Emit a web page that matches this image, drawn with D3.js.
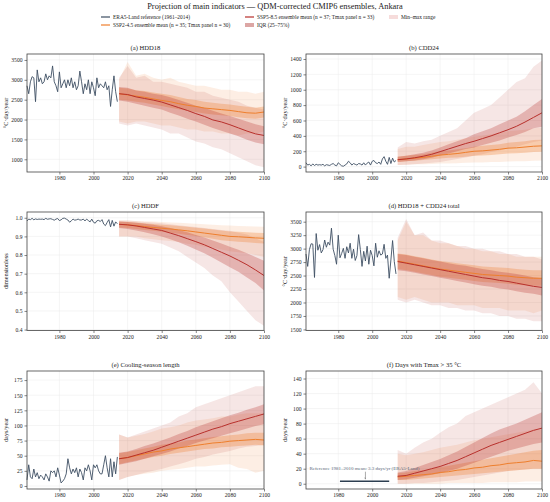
<!DOCTYPE html>
<html>
<head>
<meta charset="utf-8">
<script src="https://cdn.jsdelivr.net/npm/d3@7"></script>
<style>
  body { margin: 0; background: #fff; }
  svg { font-family: "Liberation Serif", "DejaVu Serif", serif; }
</style>
</head>
<body>
<svg id="chart" width="550" height="502"></svg>
<script>
// years
var histYears = d3.range(1961, 2015);
var projYears = d3.range(2015, 2101, 5);
var xTicks = [1980, 2000, 2020, 2040, 2060, 2080, 2100];

// (a) HDD18
var hdd18Era5 = [2850,2650,2950,3080,3050,2450,3250,2950,3050,2900,2950,3150,3000,3100,3050,3350,2950,2850,2700,3200,
  2800,2900,3000,2800,3000,2850,3050,2800,2950,2750,2850,3220,2950,2650,2900,2750,3000,2650,2950,2800,
  2600,3050,2800,2900,2850,2800,2950,2750,2850,2330,2750,3100,2700,2450];
var hdd18Ssp245Mean = [2650,2620,2590,2560,2520,2480,2450,2400,2360,2330,2290,2270,2250,2230,2200,2170,2160,2190];
var hdd18Ssp245IqrLo = [2500,2480,2450,2420,2380,2340,2300,2260,2220,2190,2150,2130,2110,2090,2060,2030,2020,2050];
var hdd18Ssp245IqrHi = [2800,2780,2740,2720,2680,2650,2620,2570,2520,2490,2450,2420,2400,2380,2350,2320,2300,2330];
var hdd18Ssp245Min = [1950,1900,1950,1950,1900,1850,1850,1800,1750,1750,1700,1700,1650,1650,1600,1650,1650,1700];
var hdd18Ssp245Max = [3000,3450,3100,3150,3050,3000,3050,2950,2900,2850,2850,2800,2750,2750,2700,2700,2650,2700];
var hdd18Ssp585Mean = [2650,2630,2570,2530,2490,2440,2370,2300,2230,2150,2080,1990,1940,1870,1790,1710,1640,1600];
var hdd18Ssp585IqrLo = [2480,2450,2400,2350,2300,2250,2170,2100,2020,1950,1870,1790,1720,1650,1580,1490,1420,1380];
var hdd18Ssp585IqrHi = [2820,2800,2730,2700,2650,2620,2560,2490,2420,2350,2300,2220,2150,2090,2020,1950,1880,1830];
var hdd18Ssp585Min = [1900,1850,1900,1850,1800,1750,1650,1650,1550,1450,1400,1300,1250,1150,1050,950,850,800];
var hdd18Ssp585Max = [3050,3350,3050,3100,2950,2950,2900,2850,2800,2700,2700,2600,2550,2500,2450,2350,2300,2250];

// (b) CDD24
var cdd24Era5 = [50,20,30,10,35,15,30,20,25,20,30,10,25,20,15,30,40,20,10,50,
  30,10,5,20,35,70,50,20,40,30,20,40,35,20,50,20,45,60,20,70,
  80,50,40,60,30,100,130,70,30,120,40,110,60,80];
var cdd24Ssp245Mean = [90,100,110,120,135,150,160,170,185,200,205,215,225,240,245,255,265,270];
var cdd24Ssp245IqrLo = [60,70,75,85,95,105,115,120,130,140,145,150,160,170,175,180,190,195];
var cdd24Ssp245IqrHi = [130,140,150,160,180,200,210,225,240,260,270,280,290,310,320,330,345,350];
var cdd24Ssp245Min = [20,25,30,30,35,40,40,45,50,55,55,60,60,65,70,70,75,80];
var cdd24Ssp245Max = [230,260,260,280,300,320,330,350,370,390,400,420,440,460,470,480,500,510];
var cdd24Ssp585Mean = [90,100,115,135,160,195,230,265,300,330,365,400,440,480,525,580,640,700];
var cdd24Ssp585IqrLo = [60,70,80,95,115,145,170,200,230,250,280,310,340,380,410,450,500,520];
var cdd24Ssp585IqrHi = [130,140,160,180,210,250,290,330,370,420,460,500,550,600,650,720,800,880];
var cdd24Ssp585Min = [20,25,30,40,50,60,80,100,120,140,160,190,210,240,260,290,320,340];
var cdd24Ssp585Max = [250,320,300,330,350,400,450,500,600,700,750,800,900,1000,1100,1150,1300,1380];

// (c) HDDF
var hddfEra5 = [0.983,0.993,0.99,0.997,0.989,0.994,0.991,0.993,0.992,0.993,0.99,0.997,0.992,0.994,0.995,0.991,0.987,0.993,0.996,0.985,
  0.989,0.997,0.998,0.993,0.988,0.976,0.984,0.993,0.987,0.989,0.993,0.988,0.988,0.993,0.983,0.993,0.985,0.978,0.993,0.976,
  0.971,0.984,0.986,0.98,0.99,0.966,0.958,0.975,0.99,0.951,0.986,0.955,0.978,0.968];
var hddfSsp245Mean = [0.965,0.962,0.958,0.953,0.948,0.944,0.94,0.935,0.93,0.924,0.918,0.912,0.906,0.9,0.898,0.895,0.892,0.89];
var hddfSsp245IqrLo = [0.948,0.945,0.94,0.935,0.93,0.925,0.92,0.914,0.908,0.902,0.895,0.888,0.88,0.875,0.872,0.868,0.865,0.862];
var hddfSsp245IqrHi = [0.98,0.978,0.975,0.971,0.967,0.963,0.96,0.956,0.952,0.947,0.942,0.937,0.932,0.927,0.925,0.922,0.92,0.918];
var hddfSsp245Min = [0.9,0.9,0.9,0.89,0.885,0.88,0.875,0.87,0.86,0.855,0.845,0.84,0.83,0.82,0.815,0.81,0.8,0.79];
var hddfSsp245Max = [0.985,0.985,0.983,0.982,0.98,0.978,0.975,0.973,0.97,0.968,0.965,0.962,0.96,0.958,0.956,0.955,0.953,0.952];
var hddfSsp585Mean = [0.965,0.962,0.956,0.948,0.94,0.932,0.918,0.904,0.888,0.872,0.855,0.835,0.815,0.795,0.772,0.748,0.72,0.69];
var hddfSsp585IqrLo = [0.945,0.94,0.932,0.922,0.912,0.9,0.885,0.868,0.85,0.83,0.81,0.785,0.76,0.735,0.71,0.68,0.65,0.61];
var hddfSsp585IqrHi = [0.98,0.978,0.973,0.968,0.962,0.955,0.945,0.935,0.922,0.908,0.894,0.878,0.862,0.845,0.828,0.81,0.79,0.77];
var hddfSsp585Min = [0.9,0.9,0.89,0.88,0.87,0.86,0.84,0.82,0.79,0.76,0.73,0.69,0.66,0.6,0.55,0.5,0.45,0.42];
var hddfSsp585Max = [0.985,0.985,0.982,0.978,0.975,0.97,0.965,0.96,0.955,0.95,0.945,0.94,0.935,0.93,0.92,0.91,0.89,0.87];

// (d) HDD18 + CDD24 total
var totalEra5 = [2900,2670,2980,3090,3085,2465,3280,2970,3075,2920,2980,3160,3025,3120,3065,3380,2990,2870,2710,3250,
  2830,2910,3005,2820,3035,2920,3100,2820,2990,2780,2870,3260,2985,2670,2950,2770,3045,2710,2970,2870,
  2680,3100,2840,2960,2880,2900,3080,2820,2880,2450,2790,3150,2760,2530];
var totalSsp245Mean = [2770,2740,2710,2680,2650,2620,2600,2580,2560,2540,2520,2510,2500,2490,2470,2460,2450,2450];
var totalSsp245IqrLo = [2620,2600,2570,2540,2510,2480,2460,2440,2420,2400,2380,2370,2360,2350,2330,2320,2310,2310];
var totalSsp245IqrHi = [2910,2890,2860,2830,2800,2770,2750,2730,2710,2690,2670,2660,2650,2640,2620,2610,2600,2600];
var totalSsp245Min = [2100,2050,2100,2050,2000,2000,2000,1950,1950,1950,1900,1900,1900,1850,1850,1850,1800,1850];
var totalSsp245Max = [3150,3500,3250,3250,3150,3100,3100,3050,3000,3000,2950,2950,2900,2900,2850,2850,2850,2850];
var totalSsp585Mean = [2760,2730,2700,2670,2640,2610,2580,2550,2520,2490,2460,2440,2410,2390,2360,2330,2300,2280];
var totalSsp585IqrLo = [2600,2580,2550,2520,2490,2460,2430,2400,2370,2340,2310,2290,2260,2240,2210,2180,2160,2130];
var totalSsp585IqrHi = [2900,2880,2850,2820,2790,2760,2730,2700,2680,2650,2620,2600,2570,2550,2530,2500,2470,2450];
var totalSsp585Min = [2050,2000,2050,2000,1950,1950,1900,1900,1850,1850,1800,1800,1750,1750,1700,1700,1650,1650];
var totalSsp585Max = [3200,3550,3250,3300,3150,3150,3100,3050,3050,3000,3000,2950,2950,2900,2900,2850,2850,2800];

// (e) Cooling-season length
var coolEra5 = [10,35,15,12,28,15,22,12,18,15,10,20,15,8,25,22,25,15,30,18,
  5,8,12,20,45,30,20,28,22,30,15,28,22,10,30,25,35,25,10,35,
  30,35,25,20,20,35,50,30,15,45,15,40,20,48];
var coolSsp245Mean = [45,47,50,53,56,58,61,63,65,67,69,71,72,74,75,76,77,76];
var coolSsp245IqrLo = [36,39,42,45,48,50,53,55,57,59,61,62,64,65,66,67,68,67];
var coolSsp245IqrHi = [54,56,59,62,65,68,70,72,75,77,79,81,82,84,85,87,88,88];
var coolSsp245Min = [10,15,18,20,22,25,27,28,30,32,32,34,35,36,30,28,22,25];
var coolSsp245Max = [85,80,83,86,90,95,97,100,105,108,110,112,115,115,118,120,120,120];
var coolSsp585Mean = [45,47,51,55,59,64,69,74,79,84,89,94,98,103,107,111,115,119];
var coolSsp585IqrLo = [35,38,41,45,49,53,57,62,66,71,75,79,83,87,91,95,99,102];
var coolSsp585IqrHi = [55,57,61,66,70,75,80,86,91,97,102,107,112,117,121,126,130,135];
var coolSsp585Min = [10,15,18,22,25,28,32,36,40,45,48,52,55,58,62,65,66,68];
var coolSsp585Max = [85,80,85,90,95,100,105,115,120,130,135,140,145,150,155,160,165,165];

// (f) Days with Tmax > 35 °C
var hotRefYears = [1981, 2010];
var hotRefMean = 3.3;
var hotSsp245Mean = [9,10,11,12,13,15,16,18,19,21,22,24,25,27,28,29,31,30];
var hotSsp245IqrLo = [5,5,6,7,8,9,10,11,12,13,14,15,16,17,18,19,20,20];
var hotSsp245IqrHi = [14,15,17,18,20,22,24,26,28,30,32,34,36,38,40,42,44,45];
var hotSsp245Min = [0,0,0,0,0,0,1,1,1,1,1,2,2,2,2,3,3,3];
var hotSsp245Max = [40,38,40,42,45,48,50,52,55,58,60,62,64,66,68,70,72,72];
var hotSsp585Mean = [10,11,14,17,20,23,27,31,36,41,46,51,55,59,63,67,71,74];
var hotSsp585IqrLo = [5,6,8,10,12,14,17,20,24,28,32,36,40,44,47,50,53,55];
var hotSsp585IqrHi = [15,17,21,25,29,33,38,43,49,55,61,67,72,76,80,85,90,95];
var hotSsp585Min = [0,0,1,1,2,3,4,5,7,9,11,13,15,17,18,19,20,20];
var hotSsp585Max = [45,40,48,55,60,68,75,80,90,95,100,105,110,115,120,125,135,120];

var colEra5 = "#3e4f63", col245 = "#ee7f2d", col585 = "#b8302c";

var svg = d3.select("#chart");

function scen(mean, iqrLo, iqrHi, mn, mx) {
  return projYears.map(function(yr, i) {
    return {year: yr, mean: mean[i], q1: iqrLo[i], q3: iqrHi[i], lo: mn[i], hi: mx[i]};
  });
}

var panels = [
  {title: "(a) HDD18", ylab: "°C·day/year", col: 0, row: 0, yDomain: [680, 3650],
   yTicks: [1000, 1500, 2000, 2500, 3000, 3500], fmt: d3.format("d"), era5: hdd18Era5,
   s245: scen(hdd18Ssp245Mean, hdd18Ssp245IqrLo, hdd18Ssp245IqrHi, hdd18Ssp245Min, hdd18Ssp245Max),
   s585: scen(hdd18Ssp585Mean, hdd18Ssp585IqrLo, hdd18Ssp585IqrHi, hdd18Ssp585Min, hdd18Ssp585Max)},
  {title: "(b) CDD24", ylab: "°C·day/year", col: 1, row: 0, yDomain: [-70, 1465],
   yTicks: d3.range(0, 1401, 200), fmt: d3.format("d"), era5: cdd24Era5,
   s245: scen(cdd24Ssp245Mean, cdd24Ssp245IqrLo, cdd24Ssp245IqrHi, cdd24Ssp245Min, cdd24Ssp245Max),
   s585: scen(cdd24Ssp585Mean, cdd24Ssp585IqrLo, cdd24Ssp585IqrHi, cdd24Ssp585Min, cdd24Ssp585Max)},
  {title: "(c) HDDF", ylab: "dimensionless", col: 0, row: 1, yDomain: [0.395, 1.031],
   yTicks: [0.4, 0.5, 0.6, 0.7, 0.8, 0.9, 1.0], fmt: d3.format(".1f"), era5: hddfEra5,
   s245: scen(hddfSsp245Mean, hddfSsp245IqrLo, hddfSsp245IqrHi, hddfSsp245Min, hddfSsp245Max),
   s585: scen(hddfSsp585Mean, hddfSsp585IqrLo, hddfSsp585IqrHi, hddfSsp585Min, hddfSsp585Max)},
  {title: "(d) HDD18 + CDD24 total", ylab: "°C·day/year", col: 1, row: 1, yDomain: [1480, 3680],
   yTicks: d3.range(1500, 3501, 250), fmt: d3.format("d"), era5: totalEra5,
   s245: scen(totalSsp245Mean, totalSsp245IqrLo, totalSsp245IqrHi, totalSsp245Min, totalSsp245Max),
   s585: scen(totalSsp585Mean, totalSsp585IqrLo, totalSsp585IqrHi, totalSsp585Min, totalSsp585Max)},
  {title: "(e) Cooling-season length", ylab: "days/year", col: 0, row: 2, yDomain: [-5, 190],
   yTicks: d3.range(0, 176, 25), fmt: d3.format("d"), era5: coolEra5,
   s245: scen(coolSsp245Mean, coolSsp245IqrLo, coolSsp245IqrHi, coolSsp245Min, coolSsp245Max),
   s585: scen(coolSsp585Mean, coolSsp585IqrLo, coolSsp585IqrHi, coolSsp585Min, coolSsp585Max)},
  {title: "(f) Days with Tmax > 35 °C", ylab: "days/year", col: 1, row: 2, yDomain: [-7, 150],
   yTicks: d3.range(0, 141, 20), fmt: d3.format("d"), era5: null,
   s245: scen(hotSsp245Mean, hotSsp245IqrLo, hotSsp245IqrHi, hotSsp245Min, hotSsp245Max),
   s585: scen(hotSsp585Mean, hotSsp585IqrLo, hotSsp585IqrHi, hotSsp585Min, hotSsp585Max)}
];

var colX = [[27, 264], [306, 542]];
var rowY = [[54, 172], [212, 330.5], [371, 489]];

// arrow head for the reference note
svg.append("defs").append("marker")
  .attr("id", "arr").attr("viewBox", "0 0 10 10").attr("refX", 9).attr("refY", 5)
  .attr("markerWidth", 4).attr("markerHeight", 4).attr("orient", "auto")
  .append("path").attr("d", "M0,1L10,5L0,9").attr("fill", "none").attr("stroke", "#555").attr("stroke-width", 1.5);

panels.forEach(function(p) {
  var x0 = colX[p.col][0], x1 = colX[p.col][1];
  var y0 = rowY[p.row][0], y1 = rowY[p.row][1];
  var x = d3.scaleLinear().domain([1961, 2100]).range([x0, x1]);
  var y = d3.scaleLinear().domain(p.yDomain).range([y1, y0]);
  var g = svg.append("g");

  // grid
  g.selectAll(".gx").data(xTicks).enter().append("line")
    .attr("x1", function(d) { return x(d); }).attr("x2", function(d) { return x(d); })
    .attr("y1", y0).attr("y2", y1).attr("stroke", "#ebebeb").attr("stroke-width", 0.5);
  g.selectAll(".gy").data(p.yTicks).enter().append("line")
    .attr("x1", x0).attr("x2", x1)
    .attr("y1", function(d) { return y(d); }).attr("y2", function(d) { return y(d); })
    .attr("stroke", "#ebebeb").attr("stroke-width", 0.5);

  var band = function(a, b) {
    return d3.area().x(function(d) { return x(d.year); })
      .y0(function(d) { return y(d[a]); }).y1(function(d) { return y(d[b]); });
  };
  var meanLine = d3.line().x(function(d) { return x(d.year); }).y(function(d) { return y(d.mean); });

  // bands: min-max first, then IQR
  g.append("path").attr("d", band("lo", "hi")(p.s245)).attr("fill", col245).attr("fill-opacity", 0.13);
  g.append("path").attr("d", band("lo", "hi")(p.s585)).attr("fill", col585).attr("fill-opacity", 0.12);
  g.append("path").attr("d", band("q1", "q3")(p.s245)).attr("fill", col245).attr("fill-opacity", 0.3);
  g.append("path").attr("d", band("q1", "q3")(p.s585)).attr("fill", col585).attr("fill-opacity", 0.28);

  g.append("path").attr("d", meanLine(p.s245)).attr("fill", "none").attr("stroke", col245).attr("stroke-width", 1);
  g.append("path").attr("d", meanLine(p.s585)).attr("fill", "none").attr("stroke", col585).attr("stroke-width", 1);

  if (p.era5) {
    var hist = histYears.map(function(yr, i) { return {year: yr, v: p.era5[i]}; });
    g.append("path")
      .attr("d", d3.line().x(function(d) { return x(d.year); }).y(function(d) { return y(d.v); })(hist))
      .attr("fill", "none").attr("stroke", colEra5).attr("stroke-width", 0.9);
  } else {
    g.append("line")
      .attr("x1", x(hotRefYears[0])).attr("x2", x(hotRefYears[1]))
      .attr("y1", y(hotRefMean)).attr("y2", y(hotRefMean))
      .attr("stroke", "#2c3e50").attr("stroke-width", 1.6);
    var ax = x(1996);
    g.append("text").attr("x", x(1963)).attr("y", y(20) + 1.5)
      .attr("font-size", 5).attr("fill", "#5d6d7e")
      .text("Reference 1981–2010 mean: 3.3 days/yr (ERA5-Land)");
    g.append("line").attr("x1", ax).attr("x2", ax)
      .attr("y1", y(16)).attr("y2", y(hotRefMean) - 2)
      .attr("stroke", "#555").attr("stroke-width", 0.5).attr("marker-end", "url(#arr)");
  }

  // axes
  var xa = g.append("g").attr("transform", "translate(0," + y1 + ")")
    .call(d3.axisBottom(x).tickValues(xTicks).tickFormat(d3.format("d")).tickSize(2.5).tickPadding(2));
  var ya = g.append("g").attr("transform", "translate(" + x0 + ",0)")
    .call(d3.axisLeft(y).tickValues(p.yTicks).tickFormat(p.fmt).tickSize(2.5).tickPadding(2));
  [xa, ya].forEach(function(a) {
    a.select(".domain").remove();
    a.selectAll("line").attr("stroke", "#333").attr("stroke-width", 0.6);
    a.selectAll("text").attr("font-family", "Liberation Serif").attr("font-size", 5.6).attr("fill", "#222");
  });

  g.append("rect").attr("x", x0).attr("y", y0).attr("width", x1 - x0).attr("height", y1 - y0)
    .attr("fill", "none").attr("stroke", "#444").attr("stroke-width", 0.8);

  g.append("text").attr("x", (x0 + x1) / 2).attr("y", y0 - 4).attr("text-anchor", "middle")
    .attr("font-size", 6.6).attr("fill", "#222").text(p.title);

  var lx = x0 - 19, ly = (y0 + y1) / 2;
  g.append("text").attr("transform", "translate(" + lx + "," + ly + ") rotate(-90)")
    .attr("text-anchor", "middle").attr("font-size", 6.3).attr("fill", "#222").text(p.ylab);
});

// title
svg.append("text").attr("x", 275).attr("y", 9).attr("text-anchor", "middle")
  .attr("font-size", 8.4).attr("fill", "#222")
  .text("Projection of main indicators — QDM-corrected CMIP6 ensembles, Ankara");

// legend
var legendItems = [
  {label: "ERA5-Land reference (1961–2014)", type: "line", color: colEra5, x: 101, y: 17},
  {label: "SSP2-4.5 ensemble mean (n = 35; Tmax panel n = 30)", type: "line", color: col245, x: 101, y: 25},
  {label: "SSP5-8.5 ensemble mean (n = 37; Tmax panel n = 33)", type: "line", color: col585, x: 245, y: 17},
  {label: "IQR (25–75%)", type: "rect", color: "#dca6a4", x: 245, y: 25},
  {label: "Min–max range", type: "rect", color: "#f6dcdb", x: 389, y: 17}
];
var lg = svg.append("g").selectAll("g").data(legendItems).enter().append("g");
lg.filter(function(d) { return d.type === "line"; }).append("line")
  .attr("x1", function(d) { return d.x; }).attr("x2", function(d) { return d.x + 9; })
  .attr("y1", function(d) { return d.y; }).attr("y2", function(d) { return d.y; })
  .attr("stroke", function(d) { return d.color; }).attr("stroke-width", 1.2);
lg.filter(function(d) { return d.type === "rect"; }).append("rect")
  .attr("x", function(d) { return d.x; }).attr("y", function(d) { return d.y - 2; })
  .attr("width", 9).attr("height", 4).attr("fill", function(d) { return d.color; });
lg.append("text").attr("x", function(d) { return d.x + 12; }).attr("y", function(d) { return d.y + 1.8; })
  .attr("font-size", 5.4).attr("fill", "#222").text(function(d) { return d.label; });
</script>
</body>
</html>
